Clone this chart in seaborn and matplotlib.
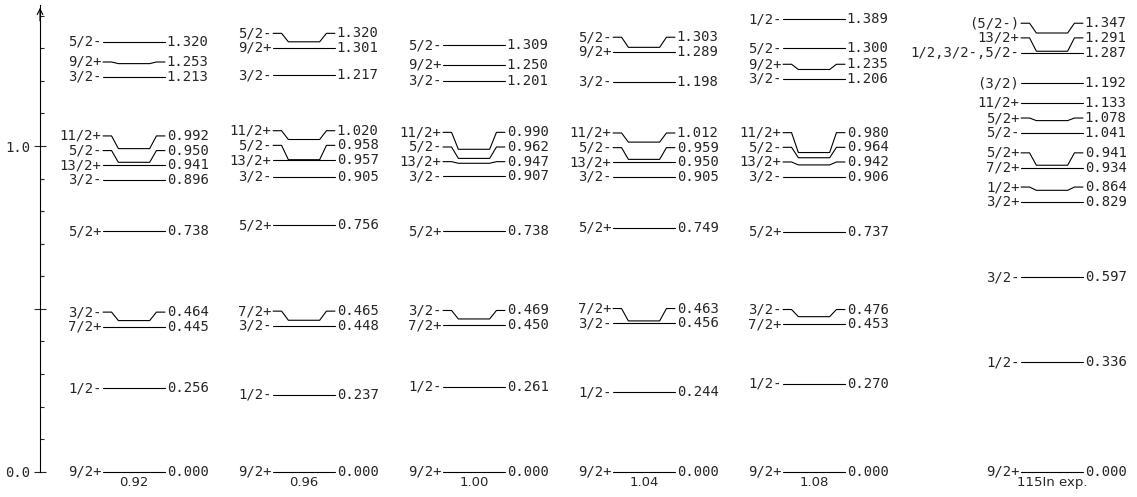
import matplotlib
matplotlib.use("Agg")
import matplotlib.pyplot as plt
import pandas as pd
import seaborn as sns

# level energies (MeV) and spins for each calculation / experiment
columns = ["0.92", "0.96", "1.00", "1.04", "1.08", "115In exp."]

spins_092 = ["9/2+", "1/2-", "7/2+", "3/2-", "5/2+", "3/2-", "13/2+", "5/2-", "11/2+", "3/2-", "9/2+", "5/2-"]
energies_092 = [0.000, 0.256, 0.445, 0.464, 0.738, 0.896, 0.941, 0.950, 0.992, 1.213, 1.253, 1.320]

spins_096 = ["9/2+", "1/2-", "3/2-", "7/2+", "5/2+", "3/2-", "13/2+", "5/2-", "11/2+", "3/2-", "9/2+", "5/2-"]
energies_096 = [0.000, 0.237, 0.448, 0.465, 0.756, 0.905, 0.957, 0.958, 1.020, 1.217, 1.301, 1.320]

spins_100 = ["9/2+", "1/2-", "7/2+", "3/2-", "5/2+", "3/2-", "13/2+", "5/2-", "11/2+", "3/2-", "9/2+", "5/2-"]
energies_100 = [0.000, 0.261, 0.450, 0.469, 0.738, 0.907, 0.947, 0.962, 0.990, 1.201, 1.250, 1.309]

spins_104 = ["9/2+", "1/2-", "3/2-", "7/2+", "5/2+", "3/2-", "13/2+", "5/2-", "11/2+", "3/2-", "9/2+", "5/2-"]
energies_104 = [0.000, 0.244, 0.456, 0.463, 0.749, 0.905, 0.950, 0.959, 1.012, 1.198, 1.289, 1.303]

spins_108 = ["9/2+", "1/2-", "7/2+", "3/2-", "5/2+", "3/2-", "13/2+", "5/2-", "11/2+", "3/2-", "9/2+", "5/2-", "1/2-"]
energies_108 = [0.000, 0.270, 0.453, 0.476, 0.737, 0.906, 0.942, 0.964, 0.980, 1.206, 1.235, 1.300, 1.389]

spins_exp = ["9/2+", "1/2-", "3/2-", "3/2+", "1/2+", "7/2+", "5/2+", "5/2-", "5/2+", "11/2+", "(3/2)",
             "1/2,3/2-,5/2-", "13/2+", "(5/2-)"]
energies_exp = [0.000, 0.336, 0.597, 0.829, 0.864, 0.934, 0.941, 1.041, 1.078, 1.133, 1.192,
                1.287, 1.291, 1.347]

all_spins = [spins_092, spins_096, spins_100, spins_104, spins_108, spins_exp]
all_energies = [energies_092, energies_096, energies_100, energies_104, energies_108, energies_exp]

# layout
col_x = [0, 1, 2, 3, 4, 5.4]
half_w = 0.182
stub = 0.05
slope = 0.04
min_gap = 0.045
mono = "DejaVu Sans Mono"
fs = 10


def spread(energies, gap):
    # push labels upward so they do not overlap
    pos = []
    for e in energies:
        pos.append(e if not pos else max(e, pos[-1] + gap))
    return pos


rows = []
labels = []
for ci, (spins, energies) in enumerate(zip(all_spins, all_energies)):
    c = col_x[ci]
    pos = spread(energies, min_gap)
    for li, (s, e, p) in enumerate(zip(spins, energies, pos)):
        xs = [c - half_w, c - half_w + stub, c - half_w + stub + slope,
              c + half_w - stub - slope, c + half_w - stub, c + half_w]
        ys = [p, p, e, e, p, p]
        for x, y in zip(xs, ys):
            rows.append({"x": x, "y": y, "level": f"{ci}-{li}"})
        labels.append((c, p, s, e))

df = pd.DataFrame(rows)

sns.set_style("white")
plt.rcParams["font.family"] = ["DejaVu Sans"]

fig = plt.figure(figsize=(11.37, 4.97), dpi=100)
ax = fig.add_axes([40 / 1137, (497 - 471.7) / 497, 1 - 40 / 1137, (471.7 - 5) / 497])

sns.lineplot(data=df, x="x", y="y", units="level", estimator=None, sort=False,
             color="black", linewidth=0.8, legend=False, ax=ax)
for ln in ax.lines:
    ln.set_clip_on(False)

for c, p, s, e in labels:
    ax.text(c - half_w - 0.01, p, s, ha="right", va="center", family=mono, fontsize=fs)
    ax.text(c + half_w + 0.01, p, f"{e:.3f}", ha="left", va="center", family=mono, fontsize=fs)

for c, name in zip(col_x, columns):
    ax.text(c, -0.012, name, ha="center", va="top", fontsize=9.5)

ax.set_xlim(-0.553, 5.9)
ax.set_ylim(0, 1.433)
ax.set_xlabel("")
ax.set_ylabel("")
ax.set_xticks([])
for side in ["top", "right", "bottom"]:
    ax.spines[side].set_visible(False)
ax.spines["left"].set_linewidth(0.8)
ax.spines["left"].set_color("black")

ax.set_yticks([0.0, 0.5, 1.0])
ax.set_yticklabels(["0.0", "", "1.0"], family=mono)
ax.set_yticks([0.1, 0.2, 0.3, 0.4, 0.6, 0.7, 0.8, 0.9, 1.1, 1.2, 1.3, 1.4], minor=True)
ax.tick_params(axis="y", which="major", direction="inout", length=8, width=0.8,
               labelsize=fs, pad=3, left=True)
ax.tick_params(axis="y", which="minor", direction="in", length=3, width=0.8, left=True)

ax.annotate("", xy=(0, 1.0), xycoords="axes fraction", xytext=(0, 0.96),
            arrowprops=dict(arrowstyle="->", lw=0.8, color="black"))

fig.savefig("out.png", dpi=100)
